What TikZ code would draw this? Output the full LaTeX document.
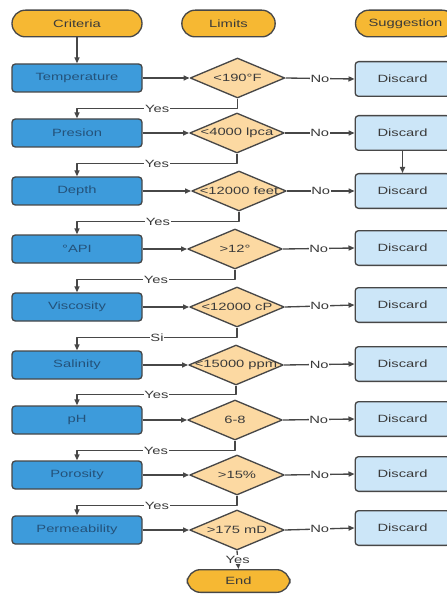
\documentclass[tikz,border=0pt]{standalone}
\usepackage{fontspec}
\setmainfont{Liberation Sans}[FakeStretch=1.4]
\usetikzlibrary{shapes.geometric,arrows.meta,positioning}
\definecolor{termfill}{HTML}{F6B833}
\definecolor{critfill}{HTML}{3D9BDB}
\definecolor{limfill}{HTML}{FCD9A2}
\definecolor{suggfill}{HTML}{CCE6F8}
\definecolor{linecol}{HTML}{474747}
\definecolor{txtcol}{HTML}{3A3A3A}
\definecolor{crittxt}{HTML}{24527A}

\begin{document}
\begin{tikzpicture}[x=0.75pt, y=-0.75pt, line width=1pt, line join=round,
    font=\fontsize{7.9}{9}\selectfont, text=txtcol,
    term/.style={draw=linecol, fill=termfill, rounded corners=10pt, minimum height=20pt},
    crit/.style={draw=linecol, fill=critfill, rounded corners=2.5pt, minimum width=97.5pt, minimum height=21pt, text=crittxt},
    lim/.style={draw=linecol, fill=limfill, diamond, minimum width=71pt, minimum height=30pt, inner sep=0pt},
    sugg/.style={draw=linecol, fill=suggfill, rounded corners=2.5pt, minimum width=71pt, minimum height=26pt},
    conn/.style={draw=linecol, -{Triangle[length=4.5pt, width=3.8pt]}},
    lbl/.style={fill=white, inner sep=0.6pt}]
    \useasboundingbox (0,0) rectangle (446,595);
    % column heads
    \node[term, minimum width=97.5pt] (criteria) at (77,23.5) {Criteria};
    \node[term, minimum width=70pt] (limits) at (228.5,23.5) {Limits};
    \node[term, minimum width=75pt] (suggestion) at (405.5,23.5) {Suggestion};
    % criteria
    \node[crit] (c1) at (77,78) {Temperature};
    \node[crit] (c2) at (77,133) {Presion};
    \node[crit] (c3) at (77,191) {Depth};
    \node[crit] (c4) at (77,249) {°API};
    \node[crit] (c5) at (77,307) {Viscosity};
    \node[crit] (c6) at (77,365) {Salinity};
    \node[crit] (c7) at (77,420) {pH};
    \node[crit] (c8) at (77,475) {Porosity};
    \node[crit] (c9) at (77,530) {Permeability};
    % limits
    \node[lim] (d1) at (237.5,78) {\makebox[0pt]{<190°F}};
    \node[lim] (d2) at (237,133) {\makebox[0pt]{<4000 lpca}};
    \node[lim] (d3) at (239,191) {\makebox[0pt]{<12000 feet}};
    \node[lim] (d4) at (235,249) {\makebox[0pt]{>12°}};
    \node[lim] (d5) at (237,307) {\makebox[0pt]{<12000 cP}};
    \node[lim] (d6) at (236,365) {\makebox[0pt]{<15000 ppm}};
    \node[lim] (d7) at (235,420) {\makebox[0pt]{6-8}};
    \node[lim] (d8) at (237,475) {\makebox[0pt]{>15\%}};
    \node[lim] (d9) at (237,530) {\makebox[0pt]{>175 mD}};
    % suggestions
    \node[sugg] (s1) at (402.5,79) {Discard};
    \node[sugg] (s2) at (402.5,133) {Discard};
    \node[sugg] (s3) at (402.5,191) {Discard};
    \node[sugg] (s4) at (402.5,248) {Discard};
    \node[sugg] (s5) at (402.5,305) {Discard};
    \node[sugg] (s6) at (402.5,364) {Discard};
    \node[sugg] (s7) at (402.5,419) {Discard};
    \node[sugg] (s8) at (402.5,474) {Discard};
    \node[sugg] (s9) at (402.5,528) {Discard};
    \node[term, minimum width=77pt, minimum height=17pt] (end) at (238.5,581) {End};
    % connectors
    \draw[conn] (criteria) -- (c1);
    \draw[conn] (c1) -- (d1);
    \draw[conn] (c2) -- (d2);
    \draw[conn] (c3) -- (d3);
    \draw[conn] (c4) -- (d4);
    \draw[conn] (c5) -- (d5);
    \draw[conn] (c6) -- (d6);
    \draw[conn] (c7) -- (d7);
    \draw[conn] (c8) -- (d8);
    \draw[conn] (c9) -- (d9);
    \draw[conn] (d1.east) -- node[lbl] {No} (s1.west);
    \draw[conn] (d2.east) -- node[lbl] {No} (s2.west);
    \draw[conn] (d3.east) -- node[lbl] {No} (s3.west);
    \draw[conn] (d4.east) -- node[lbl] {No} (s4.west);
    \draw[conn] (d5.east) -- node[lbl] {No} (s5.west);
    \draw[conn] (d6.east) -- node[lbl] {No} (s6.west);
    \draw[conn] (d7.east) -- node[lbl] {No} (s7.west);
    \draw[conn] (d8.east) -- node[lbl] {No} (s8.west);
    \draw[conn] (d9.east) -- node[lbl] {No} (s9.west);
    \draw[conn] (s2) -- (s3);
    \draw[conn] (d1.south) -- ++(0,10) -| node[lbl, pos=0.25] {Yes} (c2.north);
    \draw[conn] (d2.south) -- ++(0,10) -| node[lbl, pos=0.25] {Yes} (c3.north);
    \draw[conn] (d3.south) -- ++(0,10) -| node[lbl, pos=0.25] {Yes} (c4.north);
    \draw[conn] (d4.south) -- ++(0,10) -| node[lbl, pos=0.25] {Yes} (c5.north);
    \draw[conn] (d5.south) -- ++(0,10) -| node[lbl, pos=0.25] {Si} (c6.north);
    \draw[conn] (d6.south) -- ++(0,9) -| node[lbl, pos=0.25] {Yes} (c7.north);
    \draw[conn] (d7.south) -- ++(0,10) -| node[lbl, pos=0.25] {Yes} (c8.north);
    \draw[conn] (d8.south) -- ++(0,10) -| node[lbl, pos=0.25] {Yes} (c9.north);
    \draw[conn] (d9.south) -- node[lbl] {Yes} (end.north);
\end{tikzpicture}
\end{document}
